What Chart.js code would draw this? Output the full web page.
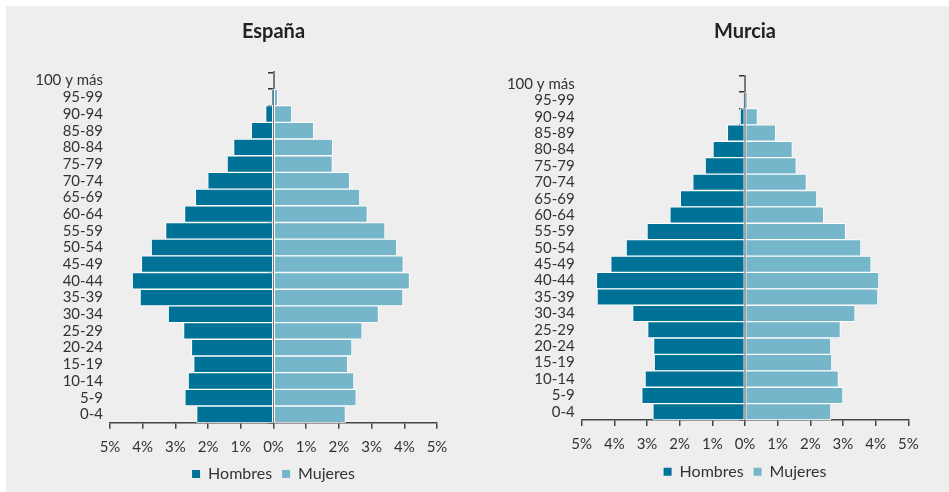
<!DOCTYPE html>
<html>
<head>
<meta charset="utf-8">
<script src="https://cdn.jsdelivr.net/npm/chart.js@4.4.1/dist/chart.umd.min.js"></script>
<style>
  html, body { margin: 0; padding: 0; background: #ffffff; width: 949px; height: 492px; overflow: hidden; }
  #bg { position: absolute; left: 6px; top: 6px; width: 943px; height: 486px; background: #eeeeee; }
  .box { position: absolute; top: 0; height: 492px; }
</style>
</head>
<body>
<div id="bg"></div>
<div class="box" style="left:0;width:474px;"><canvas id="c1"></canvas></div>
<div class="box" style="left:474px;width:475px;"><canvas id="c2"></canvas></div>
<script>
const categories = ['100 y más','95-99','90-94','85-89','80-84','75-79','70-74','65-69','60-64','55-59','50-54','45-49','40-44','35-39','30-34','25-29','20-24','15-19','10-14','5-9','0-4'];

const espanaHombres = [0, 0.04, 0.24, 0.68, 1.22, 1.42, 2.01, 2.39, 2.72, 3.30, 3.74, 4.04, 4.32, 4.08, 3.22, 2.75, 2.51, 2.44, 2.61, 2.71, 2.35];
const espanaMujeres = [0, 0.13, 0.56, 1.23, 1.81, 1.80, 2.33, 2.64, 2.87, 3.41, 3.77, 3.97, 4.16, 3.96, 3.21, 2.71, 2.40, 2.27, 2.46, 2.53, 2.20];
const murciaHombres = [0, 0.03, 0.15, 0.54, 0.98, 1.22, 1.60, 1.98, 2.30, 3.00, 3.64, 4.11, 4.55, 4.53, 3.44, 2.98, 2.80, 2.78, 3.06, 3.16, 2.82];
const murciaMujeres = [0, 0.06, 0.38, 0.94, 1.45, 1.57, 1.88, 2.20, 2.41, 3.08, 3.55, 3.86, 4.10, 4.07, 3.37, 2.92, 2.63, 2.66, 2.86, 3.00, 2.63];

const seriesNames = ['Hombres', 'Mujeres'];
const titles = ['España', 'Murcia'];

const MEN = '#007297';
const WOMEN = '#75b6ca';
const TEXT = '#333333';
const FAMILY = 'Lato, "Noto Sans", sans-serif';

function makeChart(id, title, men, women, L) {
  return new Chart(document.getElementById(id), {
    type: 'bar',
    data: {
      labels: categories,
      datasets: [
        { label: seriesNames[0], data: men.map(v => -v), backgroundColor: MEN, borderColor: '#ffffff', borderWidth: 1, borderSkipped: false, barPercentage: 1, categoryPercentage: 1 },
        { label: seriesNames[1], data: women, backgroundColor: WOMEN, borderColor: '#ffffff', borderWidth: 1, borderSkipped: false, barPercentage: 1, categoryPercentage: 1 }
      ]
    },
    options: {
      indexAxis: 'y',
      responsive: true,
      maintainAspectRatio: false,
      animation: false,
      layout: { padding: { left: L.left, right: L.right, top: 0, bottom: L.bottom } },
      scales: {
        x: {
          type: 'linear', min: -5, max: 5, stacked: true,
          ticks: { stepSize: 1, autoSkip: false, maxRotation: 0, padding: 9, color: TEXT, font: { family: FAMILY, size: 15 }, callback: v => Math.abs(v) + '%' },
          grid: { drawOnChartArea: false, drawTicks: true, tickLength: 6, color: '#444444', lineWidth: 1.5 },
          border: { display: true, color: '#444444', width: 1.5 },
          afterFit: s => { s.height = L.xh; }
        },
        y: {
          stacked: true, position: 'left',
          ticks: { autoSkip: false, padding: 7, color: TEXT, font: { family: FAMILY, size: 15 } },
          grid: { display: false, drawTicks: false },
          border: { display: false },
          afterFit: s => { s.width = L.yw; }
        },
        y2: {
          type: 'category', labels: categories, position: { x: 0 }, offset: true, z: 1,
          ticks: { display: false },
          grid: { offset: true, drawOnChartArea: false, drawTicks: true, tickLength: 5, color: '#333333', lineWidth: 1.5 },
          border: { display: true, color: '#777777', width: 2 },
          afterFit: s => { s.width = 0; }
        }
      },
      plugins: {
        title: { display: true, text: title, fullSize: false, color: '#222222', font: { family: FAMILY, size: 20, weight: 'bold' }, padding: { top: L.tt, bottom: L.tb } },
        legend: {
          position: 'bottom', fullSize: false,
          labels: {
            boxWidth: 8, boxHeight: 8, padding: 10, color: TEXT, font: { family: FAMILY, size: 16 },
            generateLabels: chart => Chart.defaults.plugins.legend.labels.generateLabels(chart).map(l => Object.assign(l, { lineWidth: 0, strokeStyle: 'rgba(0,0,0,0)' }))
          }
        },
        tooltip: { enabled: false }
      }
    }
  });
}

makeChart('c1', titles[0], espanaHombres, espanaMujeres, { left: 30, right: 37, yw: 80, bottom: 0, xh: 33.3, tt: 19.3, tb: 29 });
makeChart('c2', titles[1], murciaHombres, murciaMujeres, { left: 27.7, right: 40.7, yw: 80, bottom: 2.3, xh: 33.7, tt: 19.3, tb: 32.4 });
</script>
</body>
</html>
